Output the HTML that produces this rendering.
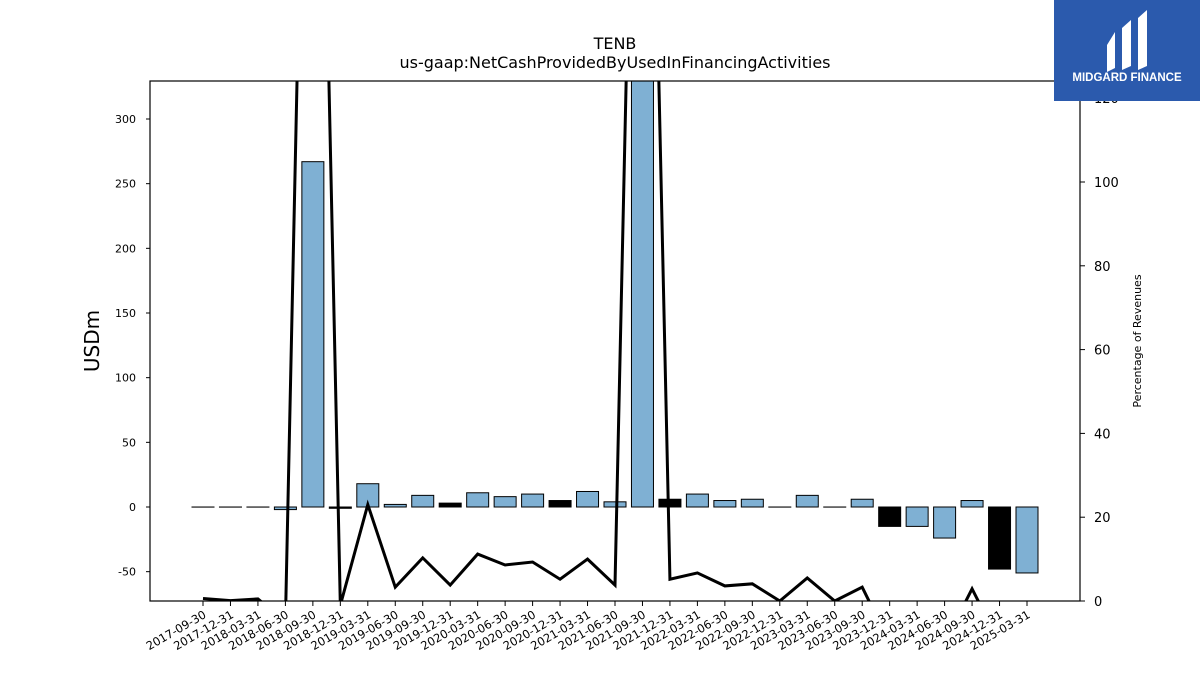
<!DOCTYPE html>
<html><head><meta charset="utf-8"><style>
body{margin:0;background:#fff;width:1200px;height:675px;overflow:hidden;font-family:"Liberation Sans","DejaVu Sans",sans-serif}
</style></head><body>
<svg id="chart" width="1200" height="675" xmlns="http://www.w3.org/2000/svg" font-family="DejaVu Sans, Liberation Sans, sans-serif">
<defs><clipPath id="plotclip"><rect x="150" y="81" width="930" height="520"/></clipPath></defs>
<text x="615" y="49" text-anchor="middle" font-size="16">TENB</text>
<text x="615" y="68" text-anchor="middle" font-size="16">us-gaap:NetCashProvidedByUsedInFinancingActivities</text>
<text transform="translate(99,341) rotate(-90)" text-anchor="middle" font-size="20">USDm</text>
<text transform="translate(1141,341) rotate(-90)" text-anchor="middle" font-size="11">Percentage of Revenues</text>
<g id="bars" clip-path="url(#plotclip)"></g>
<g id="line" clip-path="url(#plotclip)"></g>
<rect x="150" y="81" width="930" height="520" fill="none" stroke="#000" stroke-width="1.2"/>
<g id="axes"></g>
<g>
<rect x="1054" y="0" width="146" height="101" fill="#2b5aad"/>
<path d="M1107 45 L1115 32 L1115 68 L1107 72 Z M1122 28 L1131 20 L1131 66 L1122 70 Z M1138 18 L1147 10 L1147 66 L1138 70 Z" fill="#fff"/>
<text x="1127" y="81" text-anchor="middle" font-size="11.5" font-weight="bold" fill="#fff" font-family="Liberation Sans, sans-serif">MIDGARD FINANCE</text>
</g>
</svg>
<script>
const categories=["2017-09-30","2017-12-31","2018-03-31","2018-06-30","2018-09-30","2018-12-31","2019-03-31","2019-06-30","2019-09-30","2019-12-31","2020-03-31","2020-06-30","2020-09-30","2020-12-31","2021-03-31","2021-06-30","2021-09-30","2021-12-31","2022-03-31","2022-06-30","2022-09-30","2022-12-31","2023-03-31","2023-06-30","2023-09-30","2023-12-31","2024-03-31","2024-06-30","2024-09-30","2024-12-31","2025-03-31"];
const cashFlow=[0,0,0,-2,267,-1,18,2,9,3,11,8,10,5,12,4,400,6,10,5,6,0,9,0,6,-15,-15,-24,5,-48,-51];
const highlighted=[0,0,0,0,0,1,0,0,0,1,0,0,0,1,0,0,0,1,0,0,0,0,0,0,0,1,0,0,0,1,0];
const pctRevenue=[0.6,0.1,0.5,-5,300,-1,23,3.3,10.3,3.8,11.2,8.6,9.3,5.2,10,3.8,300,5.2,6.7,3.6,4.1,0,5.5,0,3.3,-10,-10,-10,2.9,-10,-10];
const leftTicks=[-50,0,50,100,150,200,250,300];
const rightTicks=[0,20,40,60,80,100,120];
const NS="http://www.w3.org/2000/svg";
const x=i=>203+i*(1027-203)/(categories.length-1);
const y=v=>507-v*(388/300);
const y2=v=>601-v*(419/100);
function mk(tag,attrs,parent){const e=document.createElementNS(NS,tag);for(const k in attrs)e.setAttribute(k,attrs[k]);parent.appendChild(e);return e;}
const bars=document.getElementById('bars'),line=document.getElementById('line'),axes=document.getElementById('axes');
cashFlow.forEach((v,i)=>{
  const top=Math.min(y(v),y(0)),h=Math.max(Math.abs(y(v)-y(0)),0.1);
  const r=mk('rect',{x:x(i)-11,y:top,width:22,height:h,fill:highlighted[i]?'#000':'#7fb0d3',stroke:'#000','stroke-width':1},bars);
  
  
});
const pl=mk('polyline',{points:pctRevenue.map((v,i)=>x(i)+','+y2(v)).join(' '),fill:'none',stroke:'#000','stroke-width':3,'stroke-linejoin':'miter'},line);


leftTicks.forEach(t=>{
  const g=mk('g',{},axes);
  
  
  mk('line',{x1:146,x2:150,y1:y(t),y2:y(t),stroke:'#000'},g);
  const tx=mk('text',{x:136,y:y(t)+4,'text-anchor':'end','font-size':11},g);tx.textContent=t;
});
rightTicks.forEach(t=>{
  const g=mk('g',{},axes);
  
  
  mk('line',{x1:1080,x2:1085,y1:y2(t),y2:y2(t),stroke:'#000'},g);
  const tx=mk('text',{x:1094,y:y2(t)+5,'font-size':13},g);tx.textContent=t;
});
categories.forEach((c,i)=>{
  const g=mk('g',{},axes);
  
  
  mk('line',{x1:x(i),x2:x(i),y1:601,y2:606,stroke:'#000'},g);
  const tx=mk('text',{transform:`translate(${x(i)+4},${617}) rotate(-30)`,'text-anchor':'end','font-size':11.5},g);tx.textContent=c;
});
</script>
</body></html>
